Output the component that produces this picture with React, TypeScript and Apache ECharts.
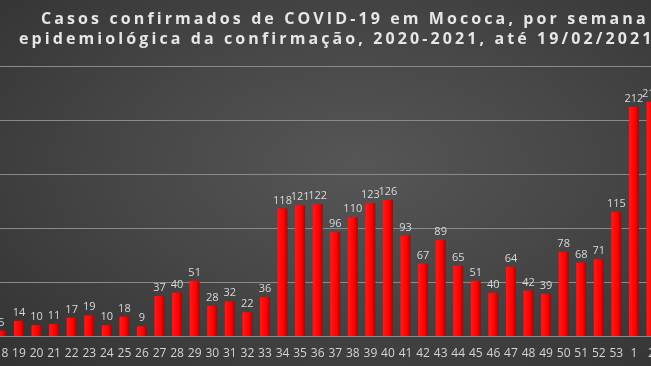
import React, { useEffect, useRef } from "react";
import * as echarts from "echarts";

const titleLine1 = "Casos confirmados de COVID-19 em Mococa, por semana";
const titleLine2 = "epidemiológica da confirmação, 2020-2021, até 19/02/2021";

const weeks = [
  "18", "19", "20", "21", "22", "23", "24", "25", "26", "27", "28", "29", "30",
  "31", "32", "33", "34", "35", "36", "37", "38", "39", "40", "41", "42", "43",
  "44", "45", "46", "47", "48", "49", "50", "51", "52", "53", "1", "2",
];
const cases = [
  5, 14, 10, 11, 17, 19, 10, 18, 9, 37, 40, 51, 28,
  32, 22, 36, 118, 121, 122, 96, 110, 123, 126, 93, 67, 89,
  65, 51, 40, 64, 42, 39, 78, 68, 71, 115, 212, 217,
];

export default function App() {
  const ref = useRef<HTMLDivElement>(null);
  const titleRef = useRef<HTMLDivElement>(null);
  useEffect(() => {
    if (!ref.current || !titleRef.current) return;
    const chart = echarts.init(ref.current, null, { renderer: "svg" });
    chart.setOption({
      animation: false,
      backgroundColor: "transparent",
      grid: { left: 12.6, right: 19.7, top: 66, bottom: 30, containLabel: false },
      xAxis: {
        type: "category",
        data: weeks,
        axisLine: { show: true, lineStyle: { color: "#8a8a8a", width: 1 } },
        axisTick: { show: false },
        axisLabel: {
          color: "#d4d4d4",
          fontSize: 12,
          fontFamily: "'Open Sans'",
          margin: 10,
          interval: 0,
        },
      },
      yAxis: {
        type: "value",
        min: 0,
        max: 250,
        interval: 50,
        axisLabel: { show: false },
        axisLine: { show: false },
        axisTick: { show: false },
        splitLine: { lineStyle: { color: "#8a8a8a", width: 1 } },
      },
      series: [
        {
          type: "bar",
          data: cases,
          barWidth: 10,
          itemStyle: {
            color: new echarts.graphic.LinearGradient(0, 0, 1, 0, [
              { offset: 0, color: "#ff1a1a" },
              { offset: 0.65, color: "#ff0000" },
              { offset: 1, color: "#b00000" },
            ]),
          },
          label: {
            show: true,
            position: "top",
            distance: 4,
            color: "#d9d9d9",
            fontSize: 11,
            fontFamily: "'Open Sans'",
          },
        },
      ],
    });
    const title = echarts.init(titleRef.current, null, { renderer: "svg" });
    title.setOption({
      animation: false,
      backgroundColor: "transparent",
      graphic: [
        {
          type: "text",
          left: 41,
          top: 10,
          style: {
            text: titleLine1,
            fill: "#e6e6e6",
            font: "bold 16px 'Open Sans'",
          },
        },
        {
          type: "text",
          left: 19,
          top: 30,
          style: {
            text: titleLine2,
            fill: "#e6e6e6",
            font: "bold 16px 'Open Sans'",
          },
        },
      ],
    });
    return () => {
      chart.dispose();
      title.dispose();
    };
  }, []);
  return (
    <div
      style={{
        position: "fixed",
        left: 0,
        top: 0,
        width: 651,
        height: 366,
        overflow: "hidden",
        background:
          "radial-gradient(ellipse at 55% 45%, #565656 0%, #474747 45%, #323232 100%)",
      }}
    >
      <style>{".ttl text { letter-spacing: 3.1px; }"}</style>
      <div
        ref={ref}
        style={{ position: "absolute", left: -20, top: 0, width: 700, height: 366 }}
      />
      <div
        ref={titleRef}
        className="ttl"
        style={{
          position: "absolute",
          left: 0,
          top: 0,
          width: 760,
          height: 60,
          pointerEvents: "none",
        }}
      />
    </div>
  );
}
